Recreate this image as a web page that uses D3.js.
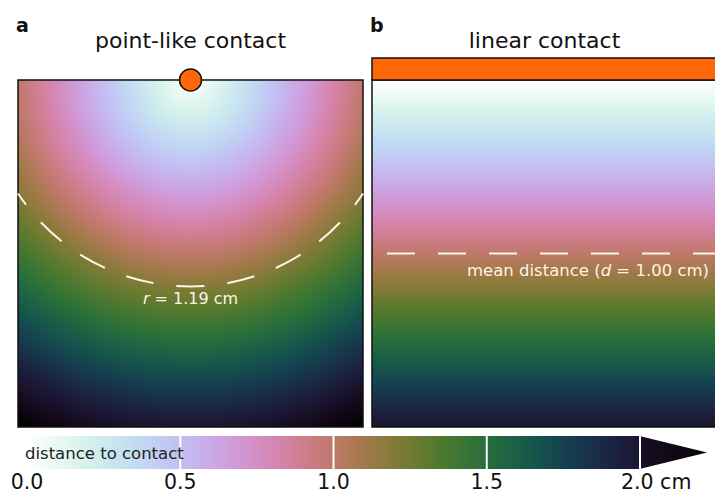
<!DOCTYPE html>
<html>
<head>
<meta charset="utf-8">
<script src="https://cdn.jsdelivr.net/npm/d3@7"></script>
<style>
  body { margin: 0; background: #fff; }
  text { font-family: "DejaVu Sans", sans-serif; }
</style>
</head>
<body>
<svg id="chart" width="715" height="493"></svg>
<script>
// data
let panelIds = ["a", "b"];
let panelTitles = ["point-like contact", "linear contact"];
let xExtent = [-1, 1];        // cm, lateral
let yExtent = [0, 2];         // cm, depth below contact
let pointRadius = 1.19;       // mean distance, point-like contact (cm)
let lineMean = 1.00;          // mean distance, linear contact (cm)
let cbarDomain = [0, 2];
let cmapRange = [1.0, 0.1];   // cubehelix lightness fraction at 0 and 2 cm
let cbarTicks = [0.0, 0.5, 1.0, 1.5, 2.0];
let cbarTickLabels = ["0.0", "0.5", "1.0", "1.5", "2.0 cm"];

let svg = d3.select("#chart");
let orange = "#ff6608";
let dashCol = "#fbf5e6";

let y = d3.scaleLinear().domain(yExtent).range([80, 427]);
let xScales = [
    d3.scaleLinear().domain(xExtent).range([18, 363]),
    d3.scaleLinear().domain(xExtent).range([372, 717])
];

let frac = d3.scaleLinear().domain(cbarDomain).range(cmapRange);

function color(d) {
    let f = Math.max(0, Math.min(1, frac(d)));
    return d3.interpolateCubehelixDefault(f);
}

// distance fields
let distFns = [
    (cx, cy) => Math.sqrt(cx * cx + cy * cy),
    (cx, cy) => cy
];

function fieldImage(x, fn) {
    let w = Math.round(x.range()[1] - x.range()[0]);
    let h = Math.round(y.range()[1] - y.range()[0]);
    let canvas = document.createElement("canvas");
    canvas.width = w;
    canvas.height = h;
    let ctx = canvas.getContext("2d");
    let img = ctx.createImageData(w, h);
    for (let j = 0; j < h; j++) {
        let cy = y.invert(y.range()[0] + j + 0.5);
        for (let i = 0; i < w; i++) {
            let cx = x.invert(x.range()[0] + i + 0.5);
            let c = d3.rgb(color(fn(cx, cy)));
            let k = (j * w + i) * 4;
            img.data[k] = c.r;
            img.data[k + 1] = c.g;
            img.data[k + 2] = c.b;
            img.data[k + 3] = 255;
        }
    }
    ctx.putImageData(img, 0, 0);
    return canvas.toDataURL();
}

svg.append("defs").selectAll("clipPath")
   .data(xScales)
   .join("clipPath")
   .attr("id", (d, i) => "clip" + i)
   .append("rect")
   .attr("x", d => d.range()[0])
   .attr("y", y.range()[0])
   .attr("width", d => d.range()[1] - d.range()[0])
   .attr("height", y.range()[1] - y.range()[0]);

xScales.forEach((x, i) => {
    let g = svg.append("g");
    g.append("image")
     .attr("x", x.range()[0])
     .attr("y", y.range()[0])
     .attr("width", Math.round(x.range()[1] - x.range()[0]))
     .attr("height", Math.round(y.range()[1] - y.range()[0]))
     .attr("href", fieldImage(x, distFns[i]));

    g.append("rect")
     .attr("x", x.range()[0])
     .attr("y", y.range()[0])
     .attr("width", x.range()[1] - x.range()[0])
     .attr("height", y.range()[1] - y.range()[0])
     .style("fill", "none")
     .style("stroke", "#111")
     .style("stroke-width", 1.5);

    g.append("text")
     .attr("x", (x.range()[0] + x.range()[1]) / 2)
     .attr("y", 48)
     .attr("text-anchor", "middle")
     .style("font-size", "22px")
     .style("fill", "#111")
     .text(panelTitles[i]);

    g.append("text")
     .attr("x", x.range()[0] - 2)
     .attr("y", 32)
     .style("font-size", "19px")
     .style("font-weight", "bold")
     .style("fill", "#111")
     .text(panelIds[i]);
});

// panel a: dashed mean-distance arc and contact point
let dash = 28, gap = 23;
let xa = xScales[0];
let rPx = y(pointRadius) - y(0);
let halfW = xa(xExtent[1]) - xa(0);
let a0 = Math.acos(halfW / rPx);
let arcPath = d3.path();
arcPath.arc(xa(0), y(0), rPx, a0, Math.PI - a0);
let arcLen = rPx * (Math.PI - 2 * a0);
svg.append("path")
   .attr("d", arcPath.toString())
   .style("fill", "none")
   .style("stroke", dashCol)
   .style("stroke-width", 2)
   .style("stroke-dasharray", dash + " " + gap)
   .style("stroke-dashoffset", (dash + gap) - ((arcLen / 2 - dash / 2) % (dash + gap)));

svg.append("text")
   .attr("x", xa(0))
   .attr("y", y(pointRadius) + 18)
   .attr("text-anchor", "middle")
   .style("font-size", "16px")
   .style("fill", dashCol)
   .html('<tspan font-style="italic">r</tspan> = 1.19 cm');

svg.append("circle")
   .attr("cx", xa(0))
   .attr("cy", y(0))
   .attr("r", 11)
   .style("fill", orange)
   .style("stroke", "#111")
   .style("stroke-width", 1.5);

// panel b: dashed mean-distance line and contact strip
let xb = xScales[1];
svg.append("line")
   .attr("x1", xb.range()[0])
   .attr("x2", xb.range()[1])
   .attr("y1", y(lineMean))
   .attr("y2", y(lineMean))
   .attr("clip-path", "url(#clip1)")
   .style("stroke", dashCol)
   .style("stroke-width", 2)
   .style("stroke-dasharray", dash + " " + gap)
   .style("stroke-dashoffset", 36);

svg.append("text")
   .attr("x", 709)
   .attr("y", y(lineMean) + 22)
   .attr("text-anchor", "end")
   .style("font-size", "16.5px")
   .style("fill", dashCol)
   .html('mean distance (<tspan font-style="italic">d</tspan> = 1.00 cm)');

svg.append("rect")
   .attr("x", xb.range()[0])
   .attr("y", 58)
   .attr("width", xb.range()[1] - xb.range()[0])
   .attr("height", y.range()[0] - 58)
   .style("fill", orange)
   .style("stroke", "#111")
   .style("stroke-width", 1.5);

// colorbar
let cx = d3.scaleLinear().domain(cbarDomain).range([27, 640]);
let cbTop = 436, cbH = 33;

let grad = svg.select("defs").append("linearGradient")
   .attr("id", "cbgrad")
   .attr("x1", "0%").attr("x2", "100%");
grad.selectAll("stop")
    .data(d3.range(0, 1.0001, 0.02))
    .join("stop")
    .attr("offset", d => (d * 100) + "%")
    .attr("stop-color", d => color(d * cbarDomain[1]));

svg.append("rect")
   .attr("x", cx(cbarDomain[0]))
   .attr("y", cbTop)
   .attr("width", cx(cbarDomain[1]) - cx(cbarDomain[0]))
   .attr("height", cbH)
   .style("fill", "url(#cbgrad)");

let overGrad = svg.select("defs").append("linearGradient")
   .attr("id", "overgrad")
   .attr("x1", "0%").attr("x2", "100%");
overGrad.selectAll("stop")
    .data([0, 1])
    .join("stop")
    .attr("offset", d => (d * 100) + "%")
    .attr("stop-color", d => d === 0 ? "#160e22" : "#0a0308");

svg.append("path")
   .attr("d", `M${cx(cbarDomain[1]) - 0.5},${cbTop} L${cx(cbarDomain[1]) + 67},${cbTop + cbH / 2} L${cx(cbarDomain[1]) - 0.5},${cbTop + cbH} Z`)
   .style("fill", "url(#overgrad)");

svg.selectAll(".cbtick")
   .data(cbarTicks.filter(d => d > 0))
   .join("line")
   .attr("class", "cbtick")
   .attr("x1", d => cx(d))
   .attr("x2", d => cx(d))
   .attr("y1", cbTop)
   .attr("y2", cbTop + cbH)
   .style("stroke", "#fff")
   .style("stroke-width", 2);

svg.selectAll(".cblabel")
   .data(cbarTicks)
   .join("text")
   .attr("class", "cblabel")
   .attr("x", d => cx(d))
   .attr("y", 489)
   .attr("text-anchor", (d, i) => i === cbarTicks.length - 1 ? "start" : "middle")
   .attr("dx", (d, i) => i === cbarTicks.length - 1 ? -19 : 0)
   .style("font-size", "20.5px")
   .style("fill", "#111")
   .text((d, i) => cbarTickLabels[i]);

svg.append("text")
   .attr("x", 25)
   .attr("y", 459)
   .style("font-size", "16.5px")
   .style("fill", "#222")
   .text("distance to contact");
</script>
</body>
</html>
